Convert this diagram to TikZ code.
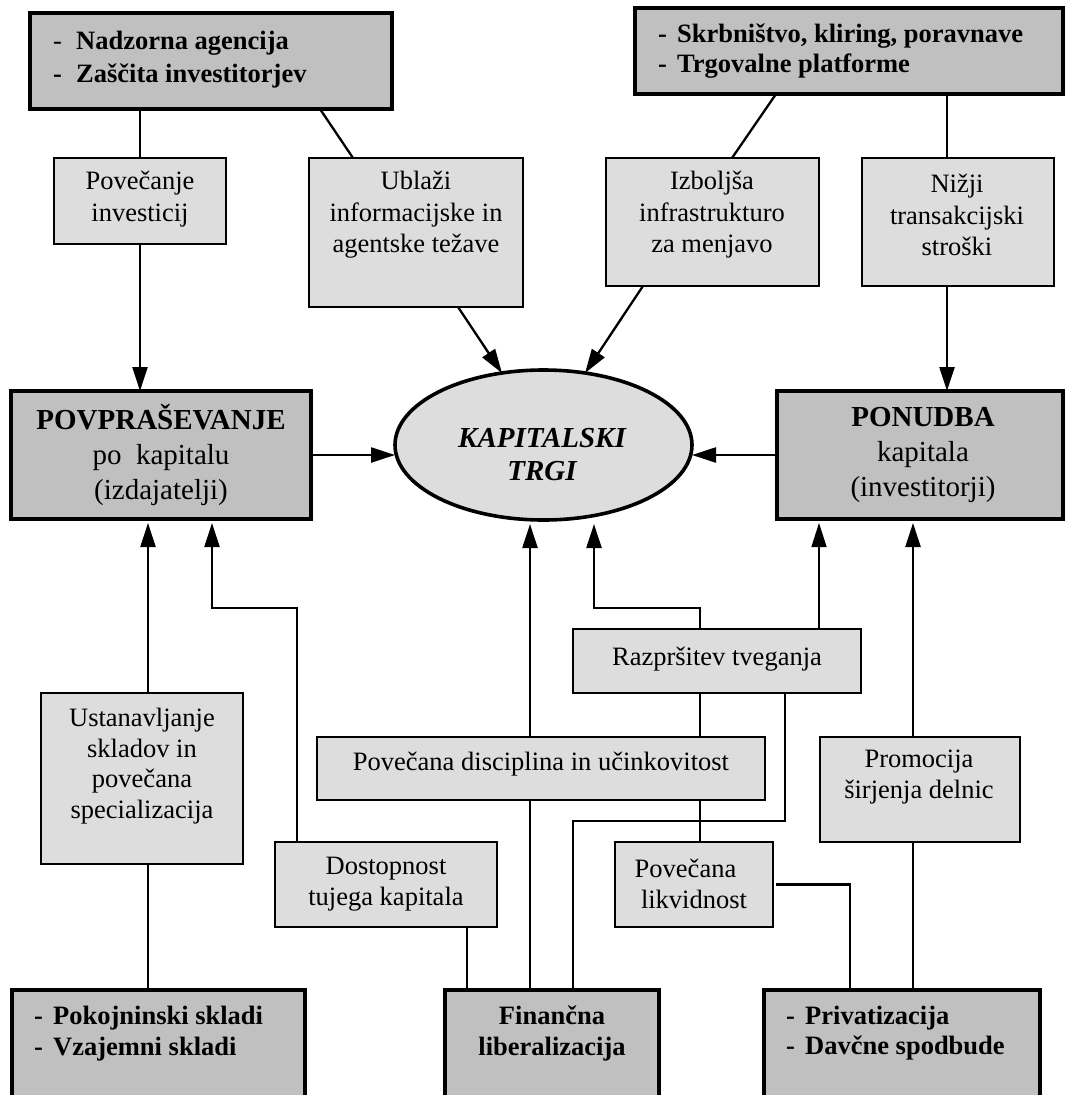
\documentclass[tikz,border=0pt]{standalone}
\usepackage{fontspec}
\setmainfont{Liberation Serif}
\usetikzlibrary{arrows.meta,shapes.geometric}
\definecolor{darkg}{HTML}{C0C0C0}
\definecolor{lightg}{HTML}{DDDDDD}
\begin{document}
\begin{tikzpicture}[x=1pt,y=-1pt,
  lbox/.style={draw, fill=lightg, line width=2.4pt, rectangle, inner sep=0pt, outer sep=0pt},
  dbox/.style={draw, fill=darkg, line width=3.2pt, rectangle, inner sep=0pt, outer sep=0pt},
  txt/.style={inner sep=0pt, align=center, font=\fontsize{26.5}{31.5}\selectfont},
  btxt/.style={inner sep=0pt, align=left, anchor=west, font=\bfseries\fontsize{26.5}{31}\selectfont},
  mtxt/.style={inner sep=0pt, align=center, font=\fontsize{29}{35}\selectfont},
  conn/.style={line width=2.3pt},
  thinconn/.style={line width=1.5pt},
  arr/.style={conn, -{Triangle[length=24pt,width=15pt]}},
  arrup/.style={arr, shorten >=4pt},
]
\useasboundingbox (0,0) rectangle (1066,1095);
\clip (0,0) rectangle (1066,1095);

% boxes
\node[dbox, minimum width=362pt, minimum height=96pt] (nadz) at (211,61) {};
\node[dbox, minimum width=428pt, minimum height=86pt] (skrb) at (849,51) {};
\node[lbox, minimum width=172pt, minimum height=86pt] (povec) at (140,201) {};
\node[lbox, minimum width=214pt, minimum height=149pt] (ublazi) at (416,232.5) {};
\node[lbox, minimum width=213pt, minimum height=128pt] (izbol) at (712.5,222) {};
\node[lbox, minimum width=192pt, minimum height=128pt] (nizji) at (958,222) {};
\node[dbox, minimum width=300pt, minimum height=128pt] (povp) at (161,455) {};
\node[ellipse, draw, fill=lightg, line width=3.6pt, minimum width=297pt, minimum height=150pt, inner sep=0pt, outer sep=0pt] (kt) at (543.5,445) {};
\node[dbox, minimum width=286pt, minimum height=128pt] (ponudba) at (920,455) {};
\node[lbox, minimum width=202pt, minimum height=171pt] (ustan) at (142,778.5) {};
\node[lbox, minimum width=288pt, minimum height=64pt] (razpr) at (717,661) {};
\node[lbox, minimum width=448pt, minimum height=63pt] (povdisc) at (541,768.5) {};
\node[lbox, minimum width=200pt, minimum height=105pt] (promo) at (920,789.5) {};
\node[lbox, minimum width=222pt, minimum height=85pt] (dostop) at (386,884.5) {};
\node[lbox, minimum width=158pt, minimum height=85pt] (likv) at (694,884.5) {};
\node[dbox, minimum width=293pt, minimum height=115pt] (pokoj) at (158.5,1047.5) {};
\node[dbox, minimum width=214pt, minimum height=115pt] (finan) at (552,1047.5) {};
\node[dbox, minimum width=276pt, minimum height=115pt] (priv) at (902,1047.5) {};

% texts
\node[btxt, font=\bfseries\fontsize{26.5}{33}\selectfont] (nadz-t) at (53,60) {\makebox[23pt][l]{\mdseries-}Nadzorna agencija\\\makebox[23pt][l]{-}Zaščita investitorjev};
\node[btxt, font=\bfseries\fontsize{26.5}{30}\selectfont] (skrb-t) at (658,51) {\makebox[19pt][l]{-}Skrbništvo, kliring, poravnave\\\makebox[19pt][l]{-}Trgovalne platforme};
\node[txt] (povec-t) at (140,199) {Povečanje\\investicij};
\node[txt] (ublazi-t) at (416,215) {Ublaži\\informacijske in\\agentske težave};
\node[txt] (izbol-t) at (712,215) {Izboljša\\infrastrukturo\\za menjavo};
\node[txt] (nizji-t) at (957,215) {Nižji\\transakcijski\\stroški};
\node[mtxt] (povp-t) at (161,455) {\textbf{POVPRAŠEVANJE}\\po\ \ kapitalu\\(izdajatelji)};
\node[mtxt] (ponudba-t) at (923,455) {\textbf{PONUDBA}\\kapitala\\(investitorji)};
\node[inner sep=0pt, align=center, font=\bfseries\itshape\fontsize{29}{33}\selectfont] (kt-t) at (542,455) {KAPITALSKI\\TRGI};
\node[txt, font=\fontsize{26.5}{30.7}\selectfont] (ustan-t) at (142,766) {Ustanavljanje\\skladov in\\povečana\\specializacija};
\node[txt] (razpr-t) at (717,659) {Razpršitev tveganja};
\node[txt] (povdisc-t) at (541,764) {Povečana disciplina in učinkovitost};
\node[txt] (promo-t) at (919,777) {Promocija\\širjenja delnic};
\node[txt] (dostop-t) at (386,884) {Dostopnost\\tujega kapitala};
\node[txt] (likv-t) at (694,884) {Povečana\hspace*{17pt}\\likvidnost};
\node[btxt] (pokoj-t) at (34,1033.5) {\makebox[19pt][l]{-}Pokojninski skladi\\\makebox[19pt][l]{-}Vzajemni skladi};
\node[inner sep=0pt, align=center, font=\bfseries\fontsize{26.5}{31}\selectfont] (finan-t) at (552,1033.5) {Finančna\\liberalizacija};
\node[btxt, font=\bfseries\fontsize{26.5}{30}\selectfont] (priv-t) at (786,1033) {\makebox[19pt][l]{-}Privatizacija\\\makebox[19pt][l]{-}Davčne spodbude};

% connectors: top
\draw[conn] (povec.north |- nadz.south) -- (povec.north);
\draw[conn] ([xshift=290pt]nadz.south west) -- ([xshift=44pt]ublazi.north west);
\draw[arr] (povec.south) -- (povec.south |- povp.north);
\draw[arr] ([xshift=149pt]ublazi.south west) -- (kt.120);
\draw[conn] ([xshift=141pt]skrb.south west) -- ([xshift=126pt]izbol.north west);
\draw[conn] ([xshift=-11pt]nizji.north |- skrb.south) -- ([xshift=-11pt]nizji.north);
\draw[arr] ([xshift=37pt]izbol.south west) -- (kt.60);
\draw[arr] ([xshift=-11pt]nizji.south) -- ([xshift=-11pt]nizji.south |- ponudba.north);

% connectors: middle
\draw[arr] (povp.east) -- (povp.east -| kt.west);
\draw[arr] (ponudba.west) -- (ponudba.west -| kt.east);

% connectors: bottom
\draw[arrup] ([xshift=6pt]ustan.north) -- ([xshift=6pt]ustan.north |- povp.south);
\draw[arrup] ([xshift=22pt]dostop.north west) -- ++(0,-234) -| ([xshift=201pt]povp.south west);
\draw[arrup] ([xshift=-11pt]povdisc.north) -- ([xshift=-11pt]povdisc.north |- kt.south);
\draw[arrup] ([xshift=127pt]razpr.north west) -- ++(0,-21) -| ([xshift=50.5pt]kt.south);
\draw[thinconn, -{Triangle[length=24pt,width=15pt]}, shorten >=4pt] ([xshift=246pt]razpr.north west) -- ([xshift=246pt]razpr.north west |- ponudba.south);
\draw[arrup] ([xshift=-7pt]promo.north) -- ([xshift=-7pt]promo.north |- ponudba.south);
\draw[conn] ([xshift=127pt]razpr.south west) -- ([xshift=127pt]razpr.south west |- povdisc.north);
\draw[conn] ([xshift=6pt]likv.north |- povdisc.south) -- ([xshift=6pt]likv.north);
\draw[conn] ([xshift=128pt]finan.north west) -- ++(0,-169) -| ([xshift=212pt]razpr.south west);
\draw[conn] ([xshift=192pt]dostop.south west) -- ([xshift=192pt]dostop.south west |- finan.north);
\draw[conn] ([xshift=-11pt]povdisc.south) -- ([xshift=-11pt]povdisc.south |- finan.north);
\draw[conn] ([xshift=6pt]ustan.south) -- ([xshift=6pt]ustan.south |- pokoj.north);
\draw[conn] ([xshift=3pt]likv.east) -| ([xshift=86pt]priv.north west);
\draw[conn] ([xshift=-7pt]promo.south) -- ([xshift=-7pt]promo.south |- priv.north);
\end{tikzpicture}
\end{document}
